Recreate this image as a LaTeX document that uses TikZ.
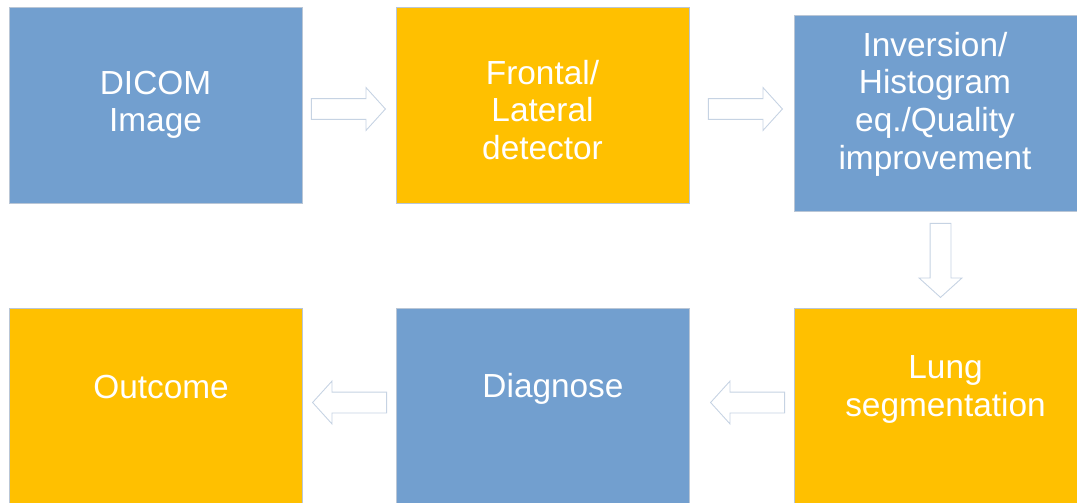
\documentclass[tikz,border=0pt]{standalone}
\usepackage{fontspec}
\setmainfont{Liberation Sans}
\usepackage{xcolor}
\usepackage{tikz}
\usetikzlibrary{shapes.arrows, calc}

\definecolor{boxblue}{HTML}{729FCF}
\definecolor{boxgold}{HTML}{FFC000}
\definecolor{boxline}{HTML}{B9C6D6}
\definecolor{arrowline}{HTML}{C6D3E3}

\begin{document}
\begin{tikzpicture}[x=0.02cm, y=-0.02cm,
    stagebox/.style={rectangle, draw=boxline, line width=0.4pt, minimum width=5.86cm, minimum height=3.92cm, inner sep=0pt},
    bluebox/.style={stagebox, fill=boxblue},
    goldbox/.style={stagebox, fill=boxgold},
    boxtext/.style={text=white, align=center, font=\fontsize{19}{21.4}\selectfont, inner sep=0pt},
    blockarrow/.style={single arrow, draw=arrowline, fill=white, line width=0.5pt, inner sep=0.2cm,
      minimum height=1.48cm, minimum width=0.84cm, single arrow head extend=0.22cm, single arrow tip angle=95.7, anchor=tip}]
          \useasboundingbox (0,0) rectangle (1077,503);
          \clip (0,0) rectangle (1077,503);

          % top row
          \node[bluebox] (dicom) at (155.5,105.5) {};
          \node[goldbox] (frontal) at (542.5,105.5) {};
          \node[bluebox] (inversion) at (940.5,113) {};
          % bottom row
          \node[goldbox] (lung) at (940.5,406) {};
          \node[bluebox] (diagnose) at (542.5,406) {};
          \node[goldbox] (outcome) at (155.5,406) {};

          \node[boxtext] (dicomtext) at ($(dicom.center)+(0,-0.5)$) {DICOM\\Image};
          \node[boxtext] (frontaltext) at ($(frontal.center)+(0,4.5)$) {Frontal/\\Lateral\\detector};
          \node[boxtext] (inversiontext) at ($(inversion.center)+(-5.5,-9)$) {Inversion/\\Histogram\\eq./Quality\\improvement};
          \node[boxtext] (lungtext) at ($(lung.center)+(5,-16.5)$) {Lung\\segmentation};
          \node[boxtext] (diagnosetext) at ($(diagnose.center)+(10.5,-17)$) {Diagnose};
          \node[boxtext] (outcometext) at ($(outcome.center)+(5.5,-19)$) {Outcome};

          % block arrows between the stages, placed by their tips
          \node[blockarrow] (step1) at (386,109) {};
          \node[blockarrow] (step2) at (783,109) {};
          \node[blockarrow, shape border rotate=270] (step3) at (940.5,298) {};
          \node[blockarrow, shape border rotate=180] (step4) at (710,402.5) {};
          \node[blockarrow, shape border rotate=180] (step5) at (312,402.5) {};
        \end{tikzpicture}
\end{document}
